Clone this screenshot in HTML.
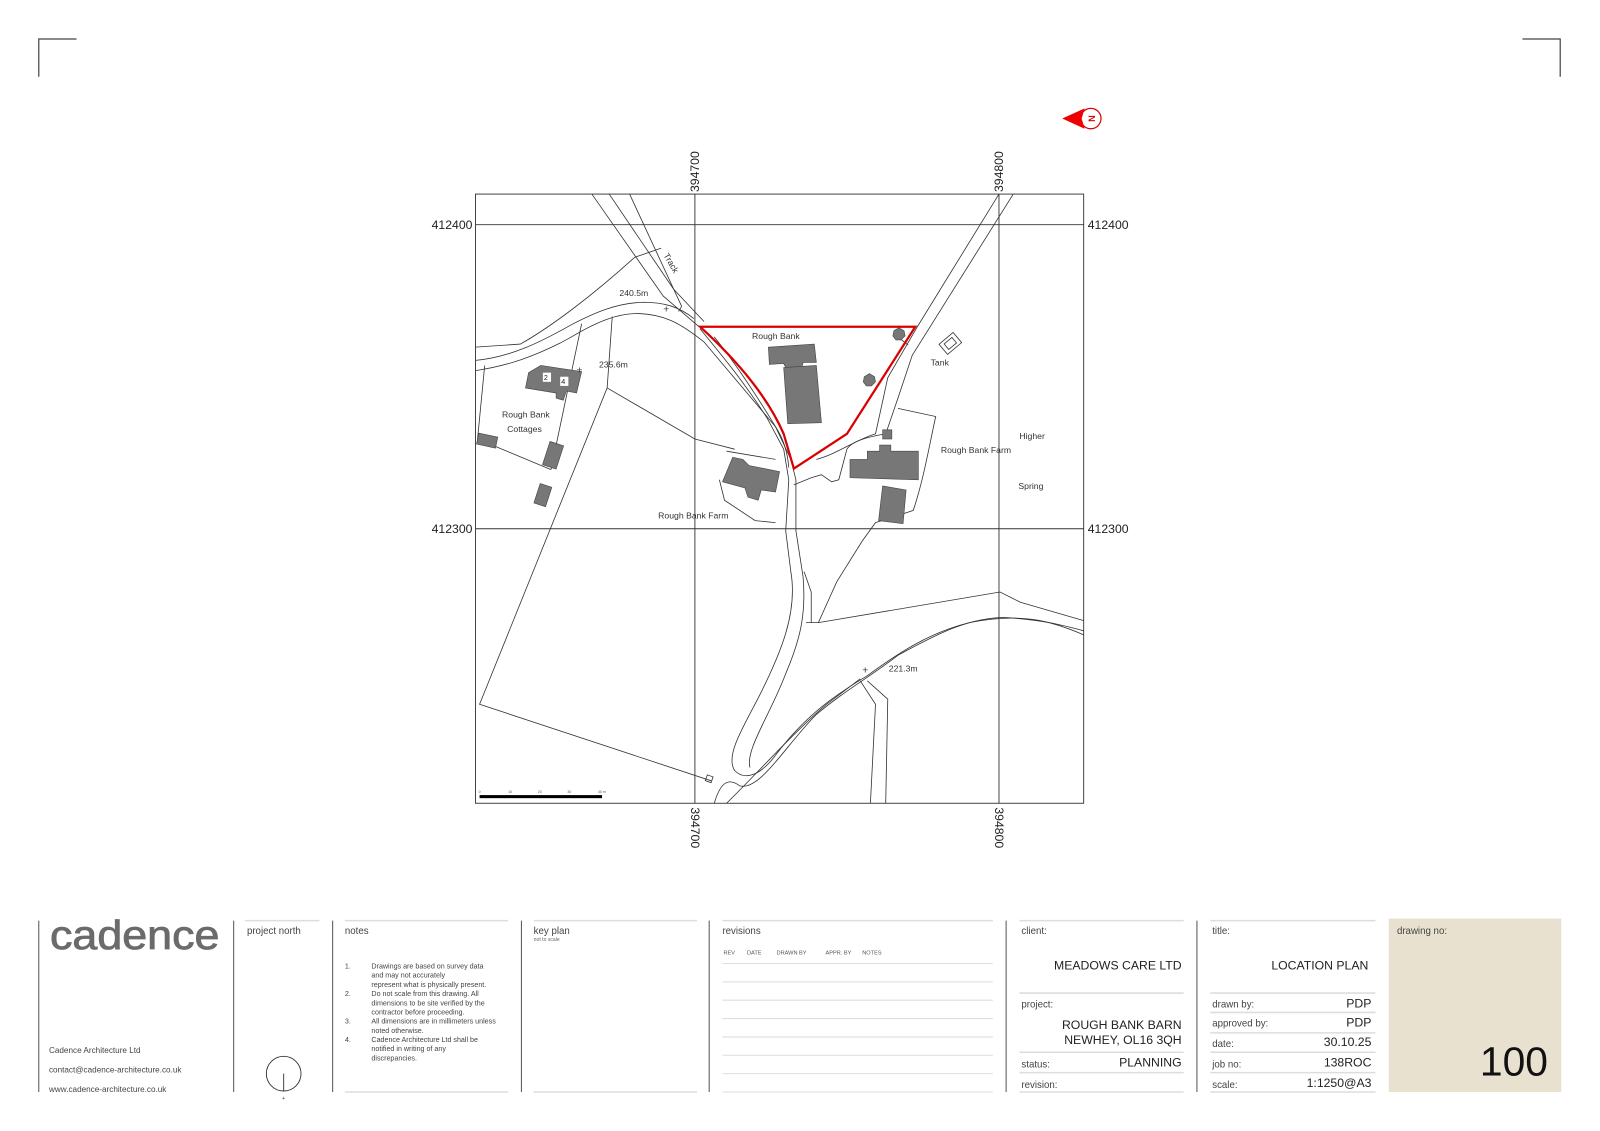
<!DOCTYPE html>
<html><head><meta charset="utf-8"><style>
html,body{margin:0;padding:0;background:#fff;}
svg{display:block;}
text{font-family:"Liberation Sans",sans-serif;}
</style></head><body>
<svg width="1600" height="1131" viewBox="0 0 1568 1108" xmlns="http://www.w3.org/2000/svg">
<rect width="1568" height="1108" fill="#fff"/>
<path d="M38,75 V38 H75 M1492,38 H1529 V75" fill="none" stroke="#444" stroke-width="1.2"/>
<circle cx="1069" cy="116" r="10" fill="#fff" stroke="#d00" stroke-width="1.2"/>
<path d="M1041,116 L1063,106 L1060,116 L1063,126 Z" fill="#e00"/>
<text x="1069" y="116" font-size="9" fill="#d00" font-weight="bold" text-anchor="middle" dominant-baseline="middle" transform="rotate(90 1069 116)">N</text>

<g fill="none" stroke="#333" stroke-width="0.9">
<rect x="466" y="190" width="596" height="597"/>
<line x1="681" y1="190" x2="681" y2="787"/>
<line x1="979" y1="190" x2="979" y2="787"/>
<line x1="466" y1="220" x2="1062" y2="220"/>
<line x1="466" y1="518" x2="1062" y2="518"/>
</g>
<g font-size="12" fill="#222">
<text x="463" y="224" text-anchor="end">412400</text>
<text x="463" y="522" text-anchor="end">412300</text>
<text x="1066" y="224">412400</text>
<text x="1066" y="522">412300</text>
<text transform="translate(685,188) rotate(-90)">394700</text>
<text transform="translate(983,188) rotate(-90)">394800</text>
<text transform="translate(677,791) rotate(90)">394700</text>
<text transform="translate(975,791) rotate(90)">394800</text>
</g>

<g fill="none" stroke="#333" stroke-width="0.8">
<path d="M580,190 L650,290 L685,320"/>
<path d="M597,190 L660,283 L690,315"/>
<path d="M617,190 L668,300"/>
<path d="M622,252 L648,243"/>
<path d="M466,340 L510,337 C540,320 580,290 622,252"/>
<path d="M466,353 C500,350 530,335 560,318 C585,305 605,297 630,296 C650,296 665,300 680,312"/>
<path d="M466,363 C500,358 525,348 549,336 L560,330 C585,315 605,307 625,307 C650,308 665,315 690,335 L760,418 C768,430 772,445 773,458"/>
<path d="M665,305 L668,300"/>
<path d="M686,322 C705,345 730,375 752,410 L768,440 L773,470 L770,520 L775,560 C782,600 765,640 745,680 C730,710 710,740 720,755 C730,765 745,760 760,740"/>
<path d="M700,330 C720,355 740,385 760,418 L775,450 L780,470 L780,520 L787,565 C790,600 785,625 770,660 C755,700 730,735 735,752"/>
<path d="M760,740 C790,700 820,680 850,662 C880,640 910,620 950,610 C1000,600 1030,608 1062,622"/>
<path d="M700,787 C705,770 712,760 725,770 C745,775 770,730 800,700 C830,675 850,665 880,642 C920,620 950,605 985,605 C1020,607 1040,612 1062,618"/>
<path d="M712,787 C740,760 775,720 810,690 L843,665"/>
<path d="M850,667 L870,685 L868,787"/>
<path d="M843,667 L858,690 L853,787"/>
<path d="M802,610 L980,580 L1000,590 L1062,608"/>
<path d="M790,610 L802,610 L820,570 L845,530 L858,512 L880,505 L895,500 C905,470 910,440 917,408 L880,400"/>
<path d="M788,560 L795,580 L795,610"/>
<path d="M979,190 L899,320 L870,370 L858,425 C840,430 820,445 800,450"/>
<path d="M993,190 L894,348 L880,390 L868,425"/>
<path d="M890,338 L880,330"/>
<path d="M868,425 C850,428 835,432 830,440 L822,470 L815,472 L805,465 L795,468 L778,475"/>
<path d="M600,310 L595,380 L470,690 L697,765"/>
<path d="M595,380 L681,430 L720,440"/>
<path d="M570,317 L540,460"/>
<path d="M475,358 L468,430 L540,460"/>
<path d="M705,470 L710,490 L740,510 L760,512"/>
<path d="M712,442 L760,450"/>
<rect x="692" y="760" width="6" height="6" transform="rotate(20 695 763)"/>
<rect x="922" y="330" width="18" height="13" transform="rotate(-40 931 336)"/>
<rect x="926" y="333" width="10" height="7" transform="rotate(-40 931 336)"/>
</g>
<path d="M686,320 L897,320 L830,425 L778,459 L768,425 C755,395 730,360 686,320 Z" fill="none" stroke="#d90000" stroke-width="2.2"/>

<g fill="#777" stroke="#444" stroke-width="0.6">
<path d="M518,365 L530,358 L570,364 L565,385 L555,383 L552,392 L545,390 L545,385 L515,380 Z"/>
<rect x="468" y="426" width="19" height="11" transform="rotate(12 477 431)"/>
<rect x="535" y="434" width="14" height="24" transform="rotate(18 542 446)"/>
<rect x="526" y="475" width="12" height="20" transform="rotate(18 532 485)"/>
<path d="M753,340 L798,337 L800,355 L787,355 L786,360 L770,360 L768,356 L754,357 Z"/>
<path d="M768,360 L800,358 L805,414 L772,415 Z"/>
<path d="M718,448 L728,450 L734,456 L764,462 L760,482 L746,480 L743,490 L733,487 L730,478 L708,472 Z"/>
<path d="M833,450 L850,450 L850,442 L862,442 L862,436 L873,436 L873,442 L900,442 L900,470 L833,468 Z"/>
<path d="M865,476 L888,480 L885,513 L861,510 Z"/>
<rect x="865" y="421" width="9" height="9"/>
<polygon points="876,324 881,321 886,324 887,329 883,333 878,333 875,329"/>
<polygon points="847,369 852,366 857,369 858,374 854,378 849,378 846,374"/>
</g>
<g fill="#fff"><rect x="532" y="365" width="8" height="9"/><rect x="549" y="369" width="8" height="9"/></g>
<g font-size="7" fill="#222"><text x="533" y="372">2</text><text x="550" y="376">4</text></g>

<g font-size="8.5" fill="#333">
<text x="737" y="332">Rough Bank</text>
<text x="492" y="409">Rough Bank</text>
<text x="497" y="423">Cottages</text>
<text x="607" y="290">240.5m</text>
<text x="587" y="360">235.6m</text>
<text x="645" y="508">Rough Bank Farm</text>
<text x="922" y="444">Rough Bank Farm</text>
<text x="999" y="430">Higher</text>
<text x="998" y="479">Spring</text>
<text x="912" y="358">Tank</text>
<text x="871" y="658">221.3m</text>
<text transform="translate(650,250) rotate(60)">Track</text>
</g>
<g font-size="10" fill="#333"><text x="650" y="306">+</text><text x="565" y="366">+</text><text x="845" y="660">+</text></g>
<rect x="470" y="779" width="120" height="3" fill="#000"/>
<g font-size="3.5" fill="#555"><text x="469" y="777">0</text><text x="498" y="777">10</text><text x="527" y="777">20</text><text x="556" y="777">30</text><text x="586" y="777">40 m</text></g>

<g stroke="#ddd" stroke-width="1.5">
<line x1="240" y1="902" x2="313" y2="902"/>
<line x1="338" y1="902" x2="498" y2="902"/>
<line x1="523" y1="902" x2="683" y2="902"/>
<line x1="708" y1="902" x2="973" y2="902"/>
<line x1="999" y1="902" x2="1160" y2="902"/>
<line x1="1186" y1="902" x2="1348" y2="902"/>
<line x1="338" y1="1070" x2="498" y2="1070"/>
<line x1="523" y1="1070" x2="683" y2="1070"/>
<line x1="999" y1="973" x2="1160" y2="973"/>
<line x1="999" y1="1031" x2="1160" y2="1031"/>
<line x1="999" y1="1051" x2="1160" y2="1051"/>
<line x1="999" y1="1070" x2="1160" y2="1070"/>
<line x1="1186" y1="973" x2="1348" y2="973"/>
<line x1="1186" y1="992" x2="1348" y2="992"/>
<line x1="1186" y1="1012" x2="1348" y2="1012"/>
<line x1="1186" y1="1031" x2="1348" y2="1031"/>
<line x1="1186" y1="1051" x2="1348" y2="1051"/>
<line x1="1186" y1="1070" x2="1348" y2="1070"/>
</g>
<g stroke="#ddd" stroke-width="1">
<line x1="708" y1="944" x2="973" y2="944"/><line x1="708" y1="962" x2="973" y2="962"/>
<line x1="708" y1="980" x2="973" y2="980"/><line x1="708" y1="998" x2="973" y2="998"/>
<line x1="708" y1="1016" x2="973" y2="1016"/><line x1="708" y1="1034" x2="973" y2="1034"/>
<line x1="708" y1="1052" x2="973" y2="1052"/><line x1="708" y1="1070" x2="973" y2="1070"/>
</g>
<g stroke="#555" stroke-width="1">
<line x1="38" y1="902" x2="38" y2="1070"/><line x1="229" y1="902" x2="229" y2="1070"/>
<line x1="326" y1="902" x2="326" y2="1070"/><line x1="511" y1="902" x2="511" y2="1070"/>
<line x1="695" y1="902" x2="695" y2="1070"/><line x1="986" y1="902" x2="986" y2="1070"/>
<line x1="1173" y1="902" x2="1173" y2="1070"/>
</g>
<rect x="1361" y="900" width="169" height="170" fill="#e8e1d0"/>
<text x="49" y="930" font-size="40" fill="#6b6b6b" textLength="166" lengthAdjust="spacingAndGlyphs" stroke="#6b6b6b" stroke-width="0.8">cadence</text>
<g font-size="8" fill="#444">
<text x="48" y="1032">Cadence Architecture Ltd</text>
<text x="48" y="1051">contact@cadence-architecture.co.uk</text>
<text x="48" y="1070">www.cadence-architecture.co.uk</text>
</g>
<g font-size="9.5" fill="#444">
<text x="242" y="915">project north</text>
<text x="338" y="915">notes</text>
<text x="523" y="915">key plan</text>
<text x="708" y="915">revisions</text>
<text x="1001" y="915">client:</text>
<text x="1188" y="915">title:</text>
<text x="1369" y="915">drawing no:</text>
<text x="1001" y="987">project:</text>
<text x="1001" y="1046">status:</text>
<text x="1001" y="1066">revision:</text>
<text x="1188" y="987">drawn by:</text>
<text x="1188" y="1006">approved by:</text>
<text x="1188" y="1026">date:</text>
<text x="1188" y="1046">job no:</text>
<text x="1188" y="1066">scale:</text>
</g>
<text x="523" y="922" font-size="5" fill="#666">not to scale</text>
<circle cx="278" cy="1052" r="17" fill="none" stroke="#333" stroke-width="0.9"/>
<line x1="278" y1="1052" x2="278" y2="1069" stroke="#333" stroke-width="0.9"/>
<text x="278" y="1078" font-size="5" fill="#333" text-anchor="middle">+</text>
<g font-size="7" fill="#444">
<text x="338" y="949">1.</text><text x="364" y="949">Drawings are based on survey data</text>
<text x="364" y="958">and may not accurately</text>
<text x="364" y="967">represent what is physically present.</text>
<text x="338" y="976">2.</text><text x="364" y="976">Do not scale from this drawing. All</text>
<text x="364" y="985">dimensions to be site verified by the</text>
<text x="364" y="994">contractor before proceeding.</text>
<text x="338" y="1003">3.</text><text x="364" y="1003">All dimensions are in millimeters unless</text>
<text x="364" y="1012">noted otherwise.</text>
<text x="338" y="1021">4.</text><text x="364" y="1021">Cadence Architecture Ltd shall be</text>
<text x="364" y="1030">notified in writing of any</text>
<text x="364" y="1039">discrepancies.</text>
</g>
<g font-size="5.5" fill="#555">
<text x="709" y="935">REV</text><text x="732" y="935">DATE</text><text x="761" y="935">DRAWN BY</text>
<text x="809" y="935">APPR. BY</text><text x="845" y="935">NOTES</text>
</g>
<g font-size="12" fill="#222" text-anchor="end">
<text x="1158" y="950">MEADOWS CARE LTD</text>
<text x="1158" y="1008">ROUGH BANK BARN</text>
<text x="1158" y="1023">NEWHEY, OL16 3QH</text>
<text x="1158" y="1045">PLANNING</text>
<text x="1341" y="950">LOCATION PLAN</text>
<text x="1344" y="987">PDP</text>
<text x="1344" y="1006">PDP</text>
<text x="1344" y="1025">30.10.25</text>
<text x="1344" y="1045">138ROC</text>
<text x="1344" y="1065">1:1250@A3</text>
</g>
<text x="1517" y="1054" font-size="40" fill="#111" text-anchor="end">100</text>
</svg>
</body></html>
